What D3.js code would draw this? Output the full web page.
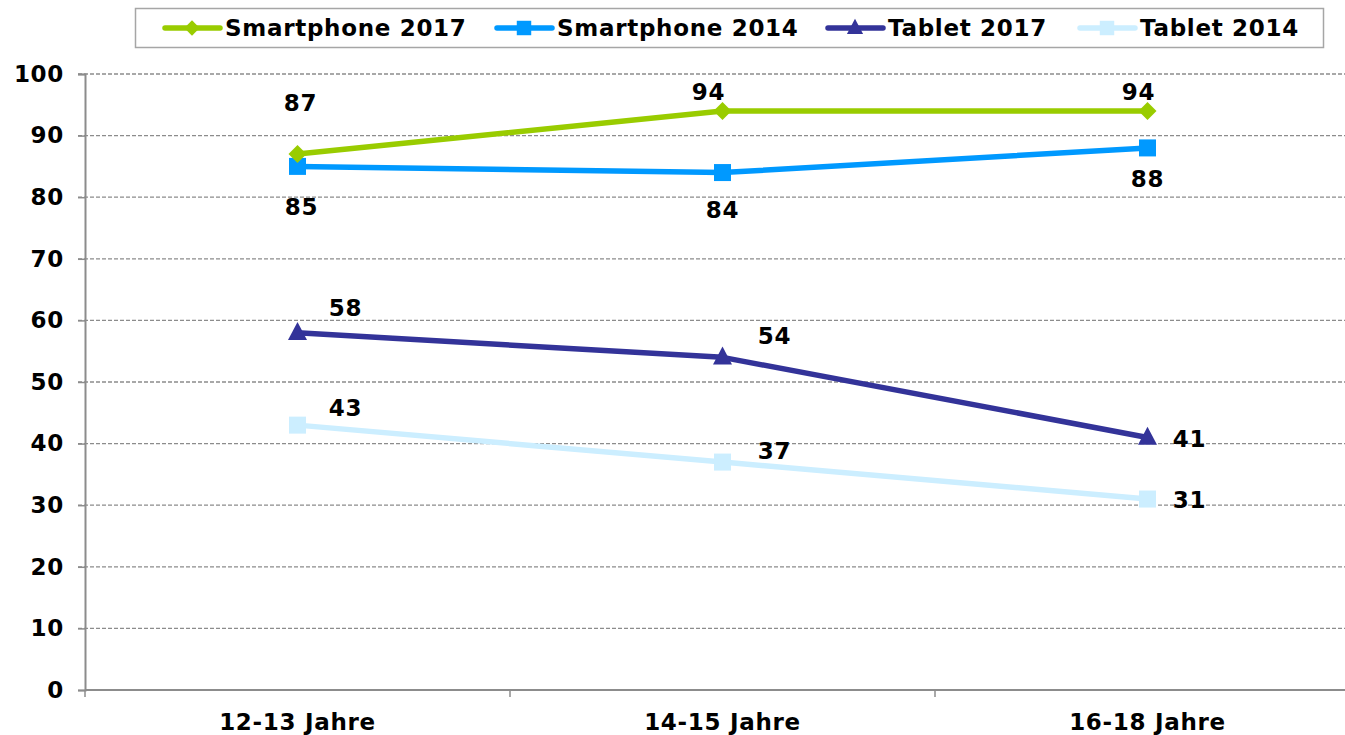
<!DOCTYPE html>
<html>
<head>
<meta charset="utf-8">
<script src="https://cdn.jsdelivr.net/npm/d3@7/dist/d3.min.js"></script>
<style>
  html, body { margin: 0; padding: 0; background: #fff; }
  svg { display: block; font-family: "DejaVu Sans", Verdana, sans-serif; font-weight: bold; }
  svg text { letter-spacing: 0.7px; }
</style>
</head>
<body>
<svg id="chart" width="1345" height="735"></svg>
<script>
// Age groups on the x axis
const categories = ["12-13 Jahre", "14-15 Jahre", "16-18 Jahre"];

// Share of teens owning each device (%)
const smartphone2017 = [87, 94, 94];
const smartphone2014 = [85, 84, 88];
const tablet2017 = [58, 54, 41];
const tablet2014 = [43, 37, 31];

const seriesNames = ["Smartphone 2017", "Smartphone 2014", "Tablet 2017", "Tablet 2014"];
const yTicks = [0, 10, 20, 30, 40, 50, 60, 70, 80, 90, 100];

// Visual styling for each series: colour, marker shape and label offsets (px)
const styles = [
  { color: "#99cc00", marker: "diamond",  labelOffsets: [[3, -51], [-14, -19], [-9, -19]] },
  { color: "#0099ff", marker: "square",   labelOffsets: [[4, 41], [0, 37], [0, 31]] },
  { color: "#333399", marker: "triangle", labelOffsets: [[48, -25], [52, -21], [42, 2]] },
  { color: "#cceeff", marker: "square",   labelOffsets: [[48, -17], [52, -11], [42, 1]] }
];

const seriesValues = [smartphone2017, smartphone2014, tablet2017, tablet2014];
const series = seriesNames.map((name, i) => ({
  name, values: seriesValues[i], ...styles[i]
}));

const svg = d3.select("#chart");
const plot = { left: 85, right: 1360, top: 74, bottom: 690 };

const x = d3.scaleBand().domain(categories).range([plot.left, plot.right]).padding(0);
const y = d3.scaleLinear().domain([0, 100]).range([plot.bottom, plot.top]);
const cx = c => x(c) + x.bandwidth() / 2;

const fontSize = 23;
const axisColor = "#8c8c8c";

// Dashed horizontal gridlines
svg.append("g")
  .selectAll("line")
  .data(yTicks.filter(d => d > 0))
  .join("line")
  .attr("x1", plot.left - 7)
  .attr("x2", 1345)
  .attr("y1", d => y(d))
  .attr("y2", d => y(d))
  .attr("stroke", axisColor)
  .attr("stroke-width", 1.3)
  .attr("stroke-dasharray", "4,2");

// Y axis
const yAxis = svg.append("g")
  .attr("transform", `translate(${plot.left},0)`)
  .call(d3.axisLeft(y).tickValues(yTicks).tickSize(7).tickPadding(14));
yAxis.select(".domain").attr("stroke", axisColor).attr("stroke-width", 2);
yAxis.selectAll(".tick line").attr("stroke", axisColor).attr("stroke-width", 1.5);
yAxis.selectAll(".tick text")
  .attr("fill", "#000")
  .style("font-size", fontSize + "px")
  .style("font-family", "'DejaVu Sans', Verdana, sans-serif")
  .style("font-weight", "bold");

// X axis: ticks at band boundaries, labels centred in each band
const xAxisG = svg.append("g");
xAxisG.append("line")
  .attr("x1", plot.left).attr("x2", plot.right)
  .attr("y1", plot.bottom).attr("y2", plot.bottom)
  .attr("stroke", axisColor).attr("stroke-width", 2);
xAxisG.selectAll("line.tick")
  .data(categories)
  .join("line")
  .attr("class", "tick")
  .attr("x1", d => x(d)).attr("x2", d => x(d))
  .attr("y1", plot.bottom).attr("y2", plot.bottom + 7)
  .attr("stroke", axisColor).attr("stroke-width", 1.5);
xAxisG.selectAll("text")
  .data(categories)
  .join("text")
  .attr("x", d => cx(d))
  .attr("y", 722)
  .attr("text-anchor", "middle")
  .attr("dominant-baseline", "central")
  .style("font-size", fontSize + "px")
  .text(d => d);

// Marker shapes
function drawMarker(g, shape, color, px, py, scale = 1) {
  if (shape === "square") {
    const s = 17 * scale;
    g.append("rect").attr("x", px - s / 2).attr("y", py - s / 2)
      .attr("width", s).attr("height", s).attr("fill", color);
  } else if (shape === "diamond") {
    const r = 9 * scale;
    g.append("path")
      .attr("d", `M${px},${py - r}L${px + r},${py}L${px},${py + r}L${px - r},${py}Z`)
      .attr("fill", color);
  } else if (shape === "triangle") {
    const h = 18 * scale, w = 19 * scale;
    g.append("path")
      .attr("d", `M${px},${py - h * 0.6}L${px + w / 2},${py + h * 0.4}L${px - w / 2},${py + h * 0.4}Z`)
      .attr("fill", color);
  }
}

const line = d3.line().x((d, i) => cx(categories[i])).y(d => y(d));

// Lines and markers, drawn bottom series first
const seriesG = svg.append("g");
series.slice().reverse().forEach(s => {
  const g = seriesG.append("g");
  g.append("path")
    .datum(s.values)
    .attr("d", line)
    .attr("fill", "none")
    .attr("stroke", s.color)
    .attr("stroke-width", 5.5)
    .attr("stroke-linejoin", "round");
  s.values.forEach((v, i) => drawMarker(g, s.marker, s.color, cx(categories[i]), y(v)));
});

// Value labels
const labelsG = svg.append("g");
series.forEach(s => {
  s.values.forEach((v, i) => {
    const [dx, dy] = s.labelOffsets[i];
    labelsG.append("text")
      .attr("x", cx(categories[i]) + dx)
      .attr("y", y(v) + dy)
      .attr("text-anchor", "middle")
      .attr("dominant-baseline", "central")
      .style("font-size", fontSize + "px")
      .text(v);
  });
});

// Legend
const legend = svg.append("g");
legend.append("rect")
  .attr("x", 135.5).attr("y", 8.5)
  .attr("width", 1188).attr("height", 39)
  .attr("fill", "#fff")
  .attr("stroke", "#a6a6a6")
  .attr("stroke-width", 1.5);
const legendX = [165, 497, 828, 1080];
series.forEach((s, i) => {
  const g = legend.append("g");
  const lx = legendX[i], ly = 28;
  g.append("line")
    .attr("x1", lx).attr("x2", lx + 55)
    .attr("y1", ly).attr("y2", ly)
    .attr("stroke", s.color).attr("stroke-width", 5.5)
    .attr("stroke-linecap", "round");
  drawMarker(g, s.marker, s.color, lx + 27, ly, 0.85);
  g.append("text")
    .attr("x", lx + 60)
    .attr("y", ly)
    .attr("dominant-baseline", "central")
    .style("font-size", fontSize + "px")
    .text(s.name);
});
</script>
</body>
</html>
